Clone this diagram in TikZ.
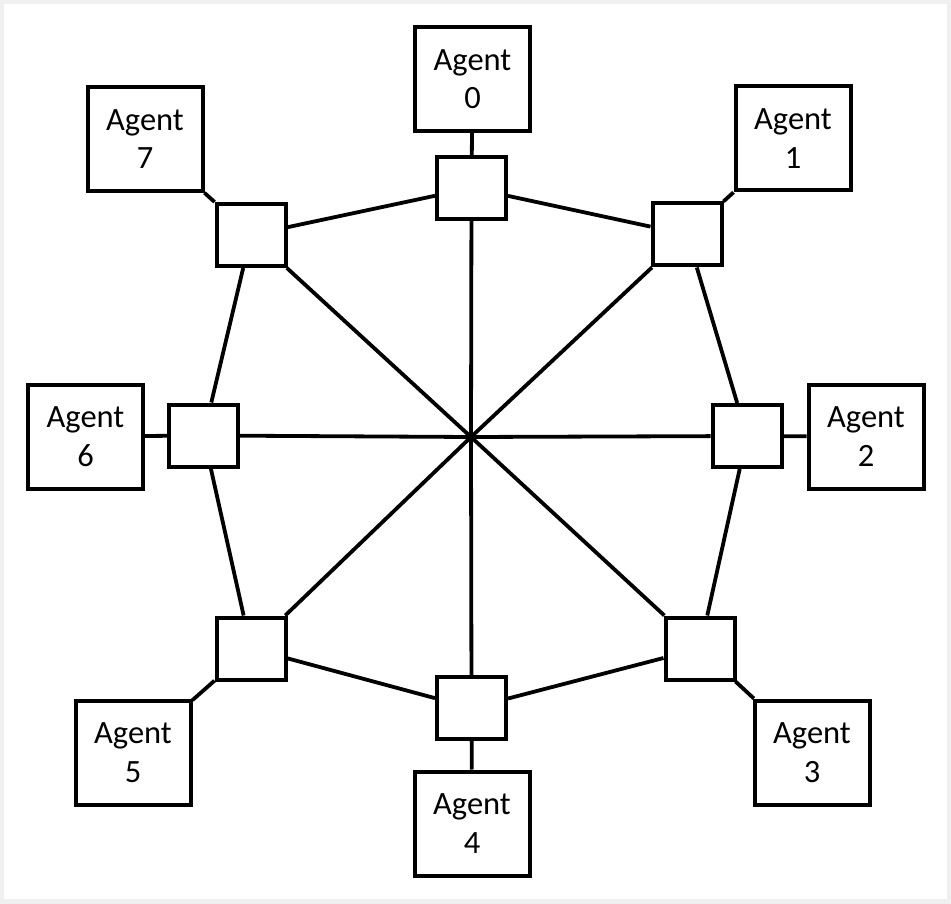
\documentclass[tikz,border=0pt]{standalone}
\usepackage{fontspec}
\setmainfont{Carlito}
\begin{document}
\begin{tikzpicture}[x=1pt,y=-1pt,
  line width=4pt,
  hub/.style={draw,fill=white,inner sep=0pt,minimum width=69pt,minimum height=62pt},
  agent/.style={draw,fill=white,inner sep=0pt,minimum width=115pt,minimum height=104pt,
    align=center,font=\fontsize{32.5}{38.5}\selectfont},
  link/.style={draw,line width=3.8pt}]
\useasboundingbox (0,0) rectangle (951,904);
\fill[gray!12] (0,0) rectangle (951,904);
\fill[white] (3.5,4.5) rectangle (947,899);
\coordinate (c) at (471,437);
\node[hub] (s0) at (471.5,188) {};
\node[hub] (s1) at (687,234.5) {};
\node[hub] (s2) at (747,436) {};
\node[hub] (s3) at (700,648.5) {};
\node[hub] (s4) at (471.5,708) {};
\node[hub] (s5) at (251,648.5) {};
\node[hub] (s6) at (203.5,435.5) {};
\node[hub] (s7) at (251,235) {};
\node[agent] (a0) at (472.5,79) {Agent\\0};
\node[agent] (a1) at (793,138.5) {Agent\\1};
\node[agent] (a2) at (866,436.5) {Agent\\2};
\node[agent] (a3) at (812,752.5) {Agent\\3};
\node[agent] (a4) at (472,823.5) {Agent\\4};
\node[agent] (a5) at (133,752.5) {Agent\\5};
\node[agent] (a6) at (85.5,436.5) {Agent\\6};
\node[agent] (a7) at (145,139) {Agent\\7};
\foreach \i in {0,...,7}{
  \path[link] (c) -- (s\i);
  \path[link] (s\i) -- (a\i);
}
\path[link] (s0) -- (s1);
\path[link] (s1) -- (s2);
\path[link] (s2) -- (s3);
\path[link] (s3) -- (s4);
\path[link] (s4) -- (s5);
\path[link] (s5) -- (s6);
\path[link] (s6) -- (s7);
\path[link] (s7) -- (s0);
\end{tikzpicture}
\end{document}
